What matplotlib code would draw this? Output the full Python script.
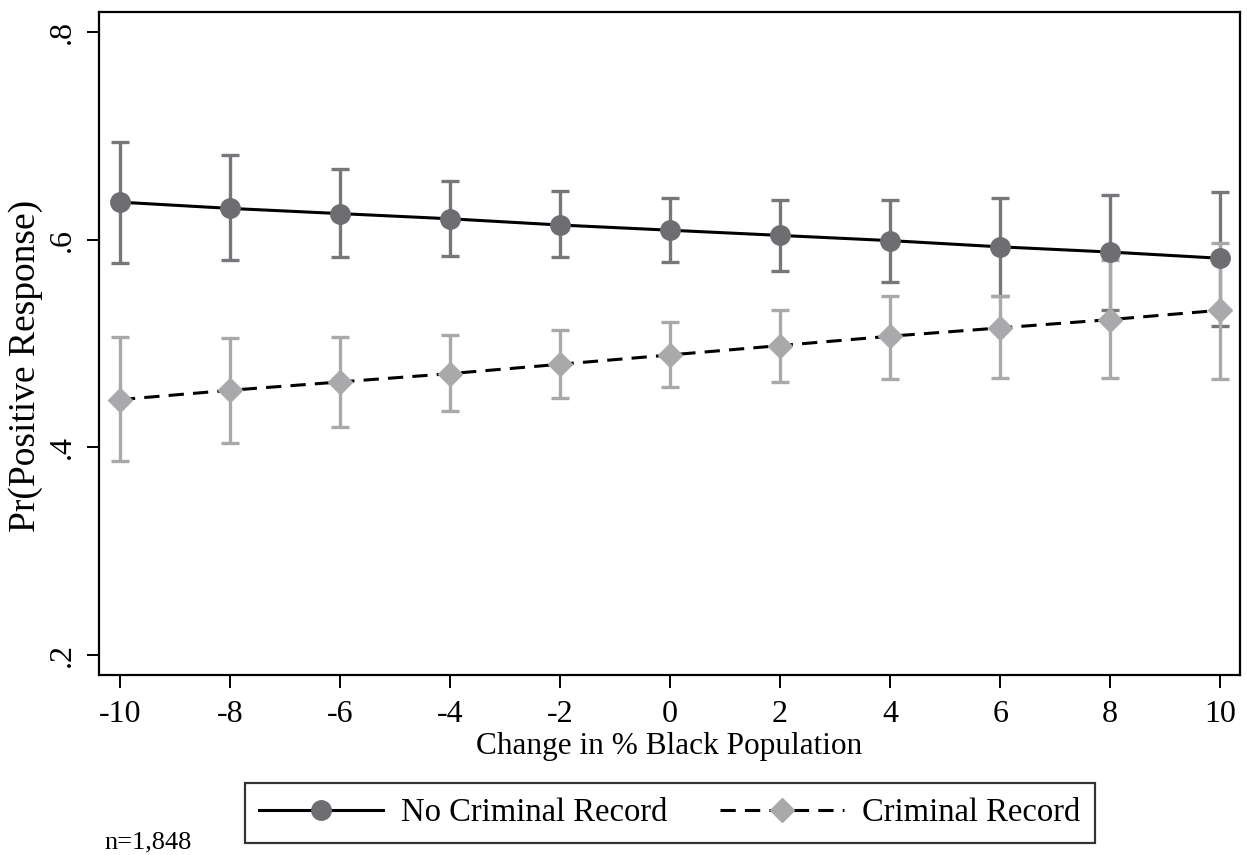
import matplotlib.pyplot as plt
from matplotlib.lines import Line2D

plt.rcParams['font.family'] = ['Liberation Serif', 'DejaVu Serif']

change = [-10, -8, -6, -4, -2, 0, 2, 4, 6, 8, 10]

# No criminal record
no_rec = [0.636, 0.630, 0.625, 0.620, 0.614, 0.609, 0.604, 0.599, 0.593, 0.588, 0.582]
no_rec_hi = [0.694, 0.681, 0.668, 0.656, 0.647, 0.640, 0.638, 0.638, 0.640, 0.643, 0.646]
no_rec_lo = [0.577, 0.580, 0.583, 0.584, 0.583, 0.578, 0.570, 0.559, 0.546, 0.532, 0.517]

# Criminal record
rec = [0.446, 0.455, 0.463, 0.471, 0.480, 0.489, 0.498, 0.507, 0.515, 0.523, 0.532]
rec_hi = [0.506, 0.505, 0.506, 0.508, 0.513, 0.521, 0.532, 0.546, 0.546, 0.580, 0.597]
rec_lo = [0.387, 0.404, 0.420, 0.435, 0.448, 0.458, 0.463, 0.466, 0.467, 0.467, 0.466]

dark = '#6d6d72'
dark_bar = '#77777b'
light = '#a9a9ab'
cap = 0.16

fig = plt.figure(figsize=(12.47, 8.55), dpi=100)
ax = fig.add_axes([0.0794, 0.2105, 0.915, 0.7755])

ax.vlines(change, no_rec_lo, no_rec_hi, color=dark_bar, lw=2.4, zorder=2)
ax.hlines(no_rec_lo + no_rec_hi, [c - cap for c in change] * 2,
          [c + cap for c in change] * 2, color=dark_bar, lw=2.4, zorder=2)
ax.vlines(change, rec_lo, rec_hi, color=light, lw=2.4, zorder=3)
ax.hlines(rec_lo + rec_hi, [c - cap for c in change] * 2,
          [c + cap for c in change] * 2, color=light, lw=2.4, zorder=3)

ax.plot(change, no_rec, color='black', lw=2.2, zorder=4)
ax.plot(change, no_rec, 'o', color=dark, ms=14, zorder=5)
ax.plot(change, rec, color='black', lw=2.2, dashes=(5, 3), zorder=4)
ax.plot(change, rec, 'D', color=light, ms=12, zorder=5)

ax.set_xlim(-10.38, 10.36)
ax.set_ylim(0.181, 0.819)
ax.set_xticks(change)
ax.set_xticklabels([str(c) for c in change])
ax.set_yticks([0.2, 0.4, 0.6, 0.8])
ax.set_yticklabels(['.2', '.4', '.6', '.8'], rotation=90, va='center')

for s in ax.spines.values():
    s.set_linewidth(1.6)
ax.tick_params(direction='out', length=9, width=1.4, labelsize=23)
ax.tick_params(axis='x', pad=9)
ax.tick_params(axis='y', pad=7)

ax.set_xlabel('Change in % Black Population', fontsize=22.5, labelpad=2)
ax.set_ylabel('Pr(Positive Response)', fontsize=27, va='center')
ax.yaxis.set_label_coords(-0.064, 0.466)

handles = [
    Line2D([], [], color='black', lw=2.2, marker='o', ms=14,
           mfc=dark, mec=dark),
    Line2D([], [], color='black', lw=2.2, dashes=(5, 3), marker='D', ms=12,
           mfc=light, mec=light),
]
leg = fig.legend(handles, ['No Criminal Record', 'Criminal Record'], ncol=2,
                 loc='center', bbox_to_anchor=(0.537, 0.049), fontsize=23.5,
                 frameon=True, fancybox=False, edgecolor='black',
                 handlelength=3.8, columnspacing=1.6, handletextpad=0.55,
                 borderpad=0.45, borderaxespad=0)
leg.get_frame().set_linewidth(1.6)

fig.text(0.084, 0.015, 'n=1,848', fontsize=19, va='center')

fig.savefig('out.png', dpi=100)
